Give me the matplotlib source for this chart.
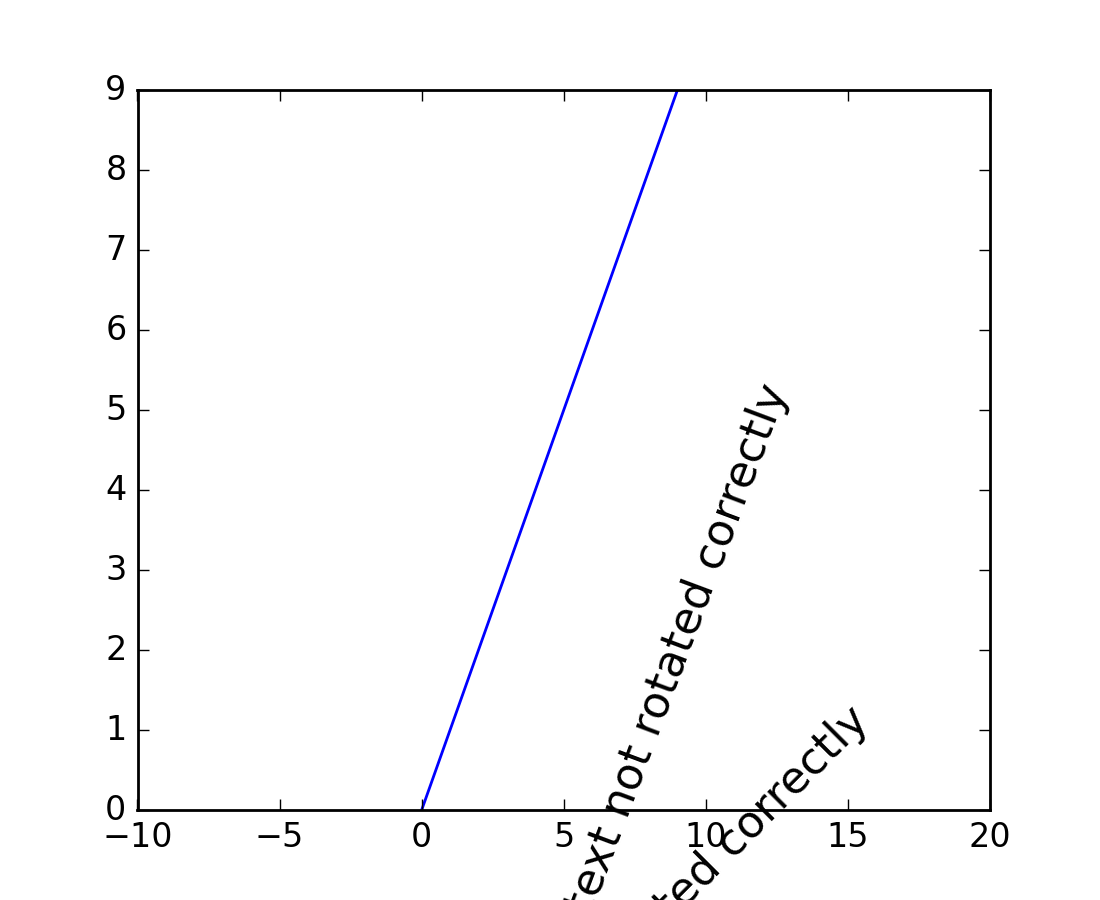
import numpy as np
import matplotlib
matplotlib.use('Agg')
import matplotlib.pyplot as plt

plt.style.use('classic')

# Diagonal line data (45 degrees in data space)
x = np.arange(0, 10)
y = np.arange(0, 10)

# Text labels: (text, anchor at end of baseline in data coords, angle)
labels = ['text not rotated correctly', 'text rotated correctly']
anchors = [(12.9, 5.25), (15.8, 1.1)]
angles = [69.5, 45]

fig = plt.figure(figsize=(5.5, 4.5), dpi=200)
ax = fig.add_subplot(111)

ax.plot(x, y, color='b')
ax.set_xlim([-10, 20])

for txt, (tx, ty), ang in zip(labels, anchors, angles):
    ax.text(tx, ty, txt, fontsize=16, rotation=ang,
            rotation_mode='anchor', ha='right', va='baseline')

fig.savefig('out.png', dpi=200, facecolor='white')
